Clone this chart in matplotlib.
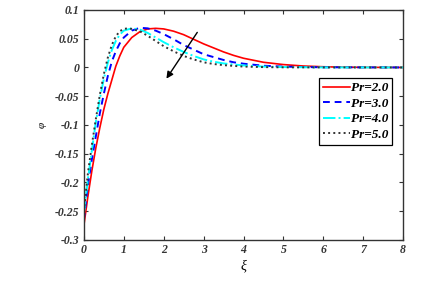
import matplotlib
matplotlib.use("Agg")
import matplotlib.pyplot as plt

x_red = [0, 0.1, 0.2, 0.3, 0.4, 0.5, 0.6, 0.7, 0.8, 0.9, 1.0, 1.2, 1.4, 1.6, 1.8, 2.0, 2.25, 2.5, 2.75,
         3.0, 3.25, 3.5, 3.75, 4.0, 4.5, 5.0, 5.5, 6.0, 6.5, 7.0, 8.0]
y_red = [-0.275, -0.225, -0.18, -0.14, -0.105, -0.073, -0.046, -0.022, 0.002, 0.02, 0.035, 0.052, 0.062,
         0.067, 0.068, 0.067, 0.063, 0.057, 0.049, 0.041, 0.034, 0.027, 0.021, 0.016, 0.009, 0.005, 0.0025,
         0.0012, 0.0005, 0.0002, 0.0]

x_blue = [0, 0.1, 0.2, 0.3, 0.4, 0.5, 0.6, 0.7, 0.8, 0.9, 1.0, 1.2, 1.4, 1.6, 1.8, 2.0, 2.25, 2.5, 2.75,
          3.0, 3.25, 3.5, 3.75, 4.0, 4.5, 5.0, 5.5, 6.0, 7.0, 8.0]
y_blue = [-0.265, -0.205, -0.16, -0.12, -0.08, -0.046, -0.015, 0.01, 0.028, 0.042, 0.052, 0.064, 0.069,
          0.068, 0.064, 0.058, 0.049, 0.039, 0.031, 0.023, 0.018, 0.013, 0.009, 0.0065, 0.003, 0.0015,
          0.0007, 0.0003, 0.0001, 0.0]

x_cyan = [0, 0.1, 0.2, 0.3, 0.4, 0.5, 0.6, 0.7, 0.8, 0.9, 1.0, 1.2, 1.4, 1.6, 1.8, 2.0, 2.25, 2.5, 2.75,
          3.0, 3.25, 3.5, 4.0, 4.5, 5.0, 6.0, 8.0]
y_cyan = [-0.255, -0.195, -0.145, -0.095, -0.055, -0.02, 0.008, 0.03, 0.046, 0.057, 0.064, 0.068, 0.066,
          0.060, 0.052, 0.044, 0.035, 0.027, 0.020, 0.014, 0.010, 0.007, 0.0035, 0.0015, 0.0007, 0.0001, 0.0]

x_black = [0, 0.1, 0.2, 0.3, 0.4, 0.5, 0.6, 0.7, 0.8, 0.9, 1.0, 1.1, 1.2, 1.4, 1.6, 1.8, 2.0, 2.25, 2.5,
           2.75, 3.0, 3.25, 3.5, 4.0, 4.5, 5.0, 8.0]
y_black = [-0.25, -0.185, -0.135, -0.09, -0.048, -0.012, 0.017, 0.039, 0.054, 0.063, 0.067, 0.068, 0.067,
           0.063, 0.055, 0.046, 0.037, 0.028, 0.020, 0.014, 0.009, 0.006, 0.004, 0.0015, 0.0006, 0.0002, 0.0]

labels = ["Pr=2.0", "Pr=3.0", "Pr=4.0", "Pr=5.0"]
x_ticks = [0, 1, 2, 3, 4, 5, 6, 7, 8]
y_ticks = [-0.3, -0.25, -0.2, -0.15, -0.1, -0.05, 0, 0.05, 0.1]
y_tick_labels = ["-0.3", "-0.25", "-0.2", "-0.15", "-0.1", "-0.05", "0", "0.05", "0.1"]

serif = "Liberation Serif"

fig = plt.figure(figsize=(4.46, 2.84), dpi=100)
ax = fig.add_axes([0.188, 0.155, 0.716, 0.81])

ax.plot(x_red, y_red, color="red", lw=1.2, ls="-", label=labels[0])
ax.plot(x_blue, y_blue, color="blue", lw=1.4, ls=(0, (3.5, 2.5)), label=labels[1])
ax.plot(x_cyan, y_cyan, color="cyan", lw=1.4, ls="-.", label=labels[2])
ax.plot(x_black, y_black, color="#333333", lw=1.4, ls=":", label=labels[3])

ax.annotate("", xy=(2.03, -0.0235), xytext=(2.88, 0.065),
            arrowprops=dict(arrowstyle="-|>", color="black", lw=1.0, mutation_scale=10))

ax.set_xlim(0, 8)
ax.set_ylim(-0.3, 0.1)
ax.set_xticks(x_ticks)
ax.set_yticks(y_ticks)
ax.set_xticklabels([str(t) for t in x_ticks], fontfamily=serif, fontstyle="italic",
                   fontweight="bold", fontsize=8.5, color="#333333")
ax.set_yticklabels(y_tick_labels, fontfamily=serif, fontstyle="italic",
                   fontweight="bold", fontsize=8.5, color="#333333")
ax.tick_params(direction="in", top=True, right=True, length=3, width=0.8, colors="#333333",
               pad=3)
for s in ax.spines.values():
    s.set_color("#333333")
    s.set_linewidth(1.0)

ax.set_xlabel("ξ", fontfamily=serif, fontstyle="italic", fontsize=10, labelpad=2)
ax.set_ylabel("φ", fontfamily=serif, fontstyle="italic", fontsize=8, labelpad=6)

leg = ax.legend(loc="upper right", bbox_to_anchor=(0.966, 0.704), fancybox=False,
                edgecolor="black", framealpha=1, borderpad=0.3, labelspacing=0.25,
                handlelength=2.0, handletextpad=0.1, borderaxespad=0,
                prop=dict(family=serif, style="italic", weight="bold", size=9.5))
leg.get_frame().set_linewidth(0.9)

fig.savefig("out.png", dpi=100)
